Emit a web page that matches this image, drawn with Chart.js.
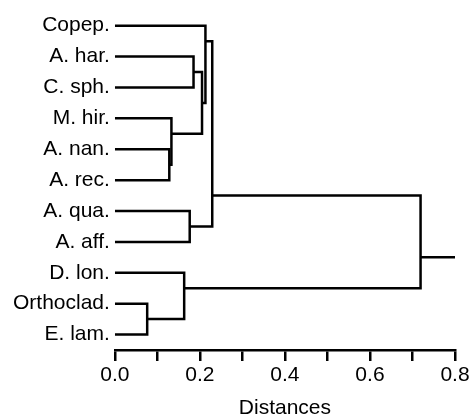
<!DOCTYPE html>
<html>
<head>
<meta charset="utf-8">
<script src="https://cdn.jsdelivr.net/npm/chart.js@4"></script>
<style>
  body { margin: 0; background: #fff; }
  #wrap { width: 470px; height: 417px; }
</style>
</head>
<body>
<div id="wrap"><canvas id="chartOne"></canvas></div>
<script>
// leaves from top to bottom
const leaves = ['Copep.', 'A. har.', 'C. sph.', 'M. hir.', 'A. nan.', 'A. rec.',
                'A. qua.', 'A. aff.', 'D. lon.', 'Orthoclad.', 'E. lam.'];
// each merge joins mergeA[i] with mergeB[i] at mergeDist[i]
// ids < leaves.length are leaves, higher ids are earlier merges (11 = first merge ...)
const mergeA    = [9,     6,     4,     3,     1,     15,    0,     8,     17,    19];
const mergeB    = [10,    7,     5,     13,    2,     14,    16,    11,    12,    18];
const mergeDist = [0.076, 0.176, 0.128, 0.133, 0.185, 0.205, 0.213, 0.163, 0.229, 0.719];
const rootEnd = 0.8;
const xTicks = [0.0, 0.1, 0.2, 0.3, 0.4, 0.5, 0.6, 0.7, 0.8];

const FONT = "'Liberation Sans', Arial, Helvetica, sans-serif";

// node info: distance, y position, last leaf index
let nodeDist = [];
let nodeY = [];
let nodeLast = [];
for (let i = 0; i < leaves.length; i++) {
    nodeDist.push(0);
    nodeY.push(i);
    nodeLast.push(i);
}

let datasets = [];
for (let i = 0; i < mergeDist.length; i++) {
    const a = mergeA[i], b = mergeB[i], d = mergeDist[i];
    datasets.push({
        data: [
            {x: nodeDist[a], y: nodeY[a]},
            {x: d, y: nodeY[a]},
            {x: d, y: nodeY[b]},
            {x: nodeDist[b], y: nodeY[b]}
        ]
    });
    nodeDist.push(d);
    // branch leaves the join at the boundary between the two groups
    nodeY.push(nodeLast[a] + 0.5);
    nodeLast.push(Math.max(nodeLast[a], nodeLast[b]));
}
// stem of the root
const root = nodeDist.length - 1;
datasets.push({
    data: [{x: nodeDist[root], y: nodeY[root]}, {x: rootEnd, y: nodeY[root]}]
});

datasets.forEach(ds => {
    ds.borderColor = '#000';
    ds.borderWidth = 2.5;
    ds.pointRadius = 0;
    ds.showLine = true;
    ds.fill = false;
    ds.tension = 0;
    ds.borderJoinStyle = 'miter';
    ds.borderCapStyle = 'butt';
});

const ctxOne = document.getElementById('chartOne').getContext('2d');
const chartOne = new Chart(ctxOne, {
    type: 'scatter',
    data: { datasets: datasets },
    options: {
        responsive: true,
        maintainAspectRatio: false,
        animation: false,
        layout: { padding: { left: 8, right: 15, top: 8, bottom: 0 } },
        plugins: {
            legend: { display: false },
            tooltip: { enabled: false }
        },
        scales: {
            x: {
                type: 'linear',
                min: 0,
                max: 0.8,
                afterBuildTicks: scale => { scale.ticks = xTicks.map(v => ({value: v})); },
                afterFit: scale => { scale.paddingRight = 0; },
                ticks: {
                    autoSkip: false,
                    maxRotation: 0,
                    padding: 2,
                    color: '#000',
                    font: { family: FONT, size: 21 },
                    callback: v => (Math.round(v * 10) % 2 === 0 ? v.toFixed(1) : '')
                },
                grid: {
                    drawOnChartArea: false,
                    drawTicks: true,
                    tickLength: 11,
                    color: '#000',
                    lineWidth: 2.5
                },
                border: { display: true, color: '#000', width: 2.5 },
                title: {
                    display: true,
                    text: 'Distances',
                    color: '#000',
                    font: { family: FONT, size: 21, lineHeight: 0.8 },
                    padding: { top: 10, bottom: 0 }
                }
            },
            y: {
                type: 'linear',
                reverse: true,
                min: -0.5,
                max: 10.5,
                afterBuildTicks: scale => { scale.ticks = leaves.map((_, i) => ({value: i})); },
                ticks: {
                    autoSkip: false,
                    padding: 5,
                    color: '#000',
                    font: { family: FONT, size: 21, lineHeight: 0.5 },
                    callback: v => leaves[v]
                },
                grid: { display: false, drawTicks: false },
                border: { display: false }
            }
        }
    }
});
</script>
</body>
</html>
